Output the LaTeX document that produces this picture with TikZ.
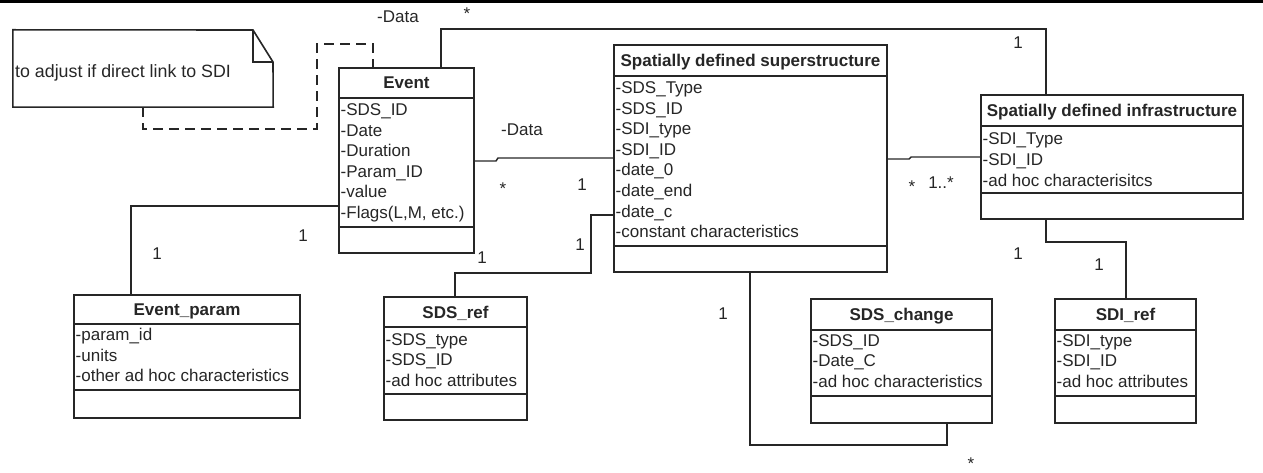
\documentclass[tikz,border=0pt]{standalone}
\usepackage{fontspec}
\setmainfont{Liberation Sans}
\tikzset{
  clsbox/.style={draw=black!85, line width=1.6pt, inner sep=0pt, fill=white},
  sepline/.style={draw=black!85, line width=1.6pt},
  ttl/.style={font=\fontsize{17}{20}\selectfont\bfseries, text=black!85, anchor=base, inner sep=0pt},
  attr/.style={font=\fontsize{17}{20}\selectfont, text=black!85, anchor=base west, inner sep=0pt},
  lbl/.style={font=\fontsize{17}{20}\selectfont, text=black!85, anchor=base, inner sep=0pt},
  conn/.style={draw=black!85, line width=1.4pt},
  dashconn/.style={conn, dash pattern=on 10pt off 6pt},
}
\newcommand{\umlclass}[8]{%
  \node[clsbox, minimum width={(#4)-(#2)}, minimum height={(#5)-(#3)}] (#1) at ({((#2)+(#4))/2},{((#3)+(#5))/2}) {};
  \draw[sepline] (#2,#6) -- (#4,#6) (#2,#7) -- (#4,#7);
  \node[ttl] (#1-title) at ({((#2)+(#4))/2},{((#3)+(#6))/2+6}) {#8};
}
\newcommand{\umlattrs}[4]{%
  \foreach \t [count=\i] in {#4} \node[attr] (#1-a\i) at (#2,{#3+20.6*(\i-1)}) {\t};
}
\begin{document}
\begin{tikzpicture}[x=1pt,y=-1pt]
\useasboundingbox (0,0) rectangle (1263,473);
\fill[black] (0,0) rectangle (1263,3.5);

% note
\node[inner sep=0pt, minimum width=260, minimum height=77] (note) at (143,68.5) {};
\draw[conn, line width=1.6pt] (note.north west) -- (253,30) -- (273,62) -- (note.south east) -- (note.south west) -- cycle;
\draw[conn] (253,30) -- (253,62) -- (273,62);
\node[attr, font=\fontsize{17.8}{20}\selectfont] (notetext) at (15,78) {to adjust if direct link to SDI};

% classes
\umlclass{ev}{339}{68}{474}{253}{98}{227}{Event}
\umlattrs{ev}{340.5}{115.5}{-SDS\_ID,-Date,-Duration,-Param\_ID,-value,{-Flags(L,M, etc.)}}

\umlclass{sds}{614}{45}{887}{272}{76}{246}{Spatially defined superstructure}
\umlattrs{sds}{615.5}{93.5}{-SDS\_Type,-SDS\_ID,-SDI\_type,-SDI\_ID,-date\_0,-date\_end,-date\_c,-constant characteristics}

\umlclass{sdi}{981}{95}{1243}{219}{126}{193}{Spatially defined infrastructure}
\umlattrs{sdi}{982.5}{145}{-SDI\_Type,-SDI\_ID,-ad hoc characterisitcs}

\umlclass{ep}{74}{295}{300}{418}{324}{390}{Event\_param}
\umlattrs{ep}{75.5}{340.5}{-param\_id,-units,-other ad hoc characteristics}

\umlclass{sref}{384}{297}{527}{420}{327}{394}{SDS\_ref}
\umlattrs{sref}{385.5}{345}{-SDS\_type,-SDS\_ID,-ad hoc attributes}

\umlclass{schg}{811}{299}{992}{423}{330}{396}{SDS\_change}
\umlattrs{schg}{812.5}{346}{-SDS\_ID,-Date\_C,-ad hoc characteristics}

\umlclass{iref}{1055}{299}{1196}{423}{330}{396}{SDI\_ref}
\umlattrs{iref}{1056.5}{346}{-SDI\_type,-SDI\_ID,-ad hoc attributes}

% connectors
\draw[dashconn] (note.south -| 143,0) |- (317,129) |- (373,44) -- (ev.north -| 373,0);
\draw[conn] (ev.north -| 441,0) |- (1046,29) -- (sdi.north -| 1046,0);
\draw[conn] (ev.east |- 0,161) -- (496,161) -- (498,158) -- (sds.west |- 0,158);
\draw[conn] (sds.east |- 0,159) -- (909,159) -- (911,157) -- (sdi.west |- 0,157);
\draw[conn] (ev.west |- 0,206) -| (ep.north -| 131,0);
\draw[conn] (sds.west |- 0,215) -| (591,273) -| (sref.north -| 455,0);
\draw[conn] (sds.south -| 750,0) |- (947,445) -- (schg.south -| 947,0);
\draw[conn] (sdi.south -| 1046,0) |- (1126,242) -- (iref.north -| 1126,0);

% labels
\node[lbl] (l1) at (398,23) {-Data};
\node[lbl] (l2) at (467,20) {*};
\node[lbl] (l3) at (1018,49) {1};
\node[lbl] (l4) at (522,136) {-Data};
\node[lbl] (l5) at (503,195) {*};
\node[lbl] (l6) at (582,191) {1};
\node[lbl] (l7) at (912,193) {*};
\node[lbl] (l8) at (941,189) {1..*};
\node[lbl] (l9) at (157,259) {1};
\node[lbl] (l10) at (303,241) {1};
\node[lbl] (l11) at (482,263) {1};
\node[lbl] (l12) at (580,250) {1};
\node[lbl] (l13) at (723,319) {1};
\node[lbl] (l14) at (971,469) {*};
\node[lbl] (l15) at (1018,259) {1};
\node[lbl] (l16) at (1099,270) {1};
\end{tikzpicture}
\end{document}
